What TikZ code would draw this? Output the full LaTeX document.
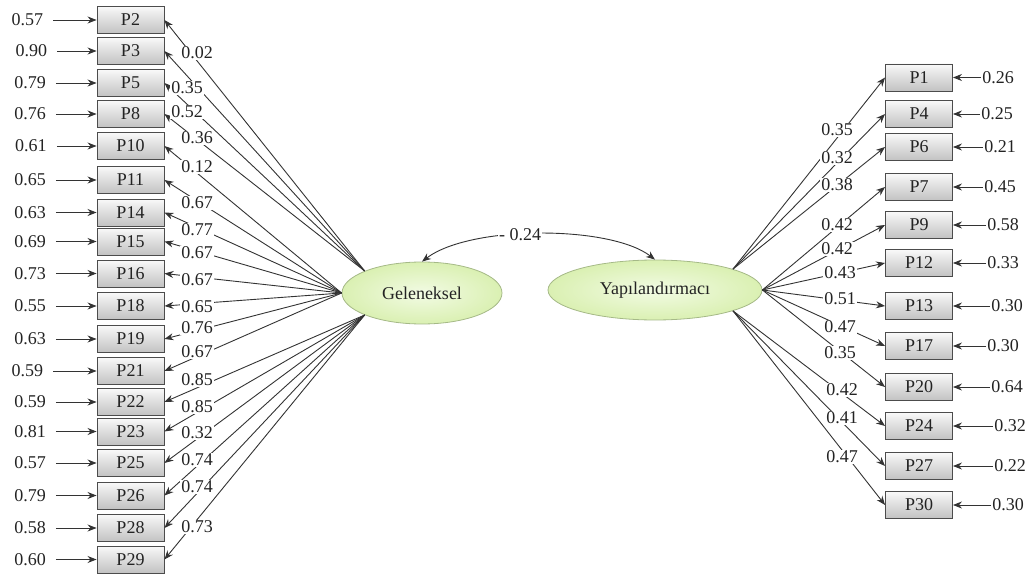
\documentclass[tikz,border=0pt]{standalone}
\usepackage{fontspec}
\setmainfont{Liberation Serif}
\usetikzlibrary{shapes.geometric,arrows.meta}
\definecolor{latfill}{RGB}{218,240,178}
\definecolor{latinner}{RGB}{242,251,228}
\definecolor{latdraw}{RGB}{165,185,135}
\definecolor{ink}{RGB}{35,35,35}
\begin{document}
\begin{tikzpicture}[x=1pt,y=-1pt,
  txt/.style={font=\fontsize{18}{20}\selectfont, text=ink},
  item/.style={txt, draw=black!70, line width=0.9pt, top color=gray!5, bottom color=gray!48,
               minimum width=67pt, minimum height=27pt, inner sep=0pt},
  latent/.style={txt, ellipse, draw=latdraw, line width=0.8pt, inner color=latinner,
                 outer color=latfill, inner sep=0pt},
  coef/.style={txt, fill=white, inner sep=1pt},
  err/.style={txt, inner sep=1pt},
  link/.style={-{Stealth[length=9pt,width=7pt]}, draw=black!80, line width=0.9pt},
  corr/.style={arrows={Stealth[length=9pt,width=7pt]-Stealth[length=9pt,width=7pt]},
               draw=black!80, line width=0.9pt},
]
\useasboundingbox (0,0) rectangle (1031,575);

% latent factors
\node[latent, minimum width=160pt, minimum height=62pt] (gel) at (422,293) {Geleneksel};
\node[latent, minimum width=214pt, minimum height=60pt] (yap) at (655,290) {Yapılandırmacı};

% name / y / error / error x / loading / label x / label y / anchor angle
\def\leftdata{2/20/0.57/27.5/0.02/197/53/159,
3/51/0.90/31.5/0.35/187/88/159,
5/83/0.79/30/0.52/187/112/159,
8/114/0.76/30/0.36/197/138/159,
10/146/0.61/31/0.12/197/167/180,
11/180/0.65/30/0.67/197/203/180,
14/212.5/0.63/30/0.77/197/230/180,
15/241.5/0.69/30/0.67/197/253/180,
16/273.5/0.73/30/0.67/197/280/180,
18/306/0.55/30/0.65/197/307/180,
19/339/0.63/30/0.76/197/328/180,
21/371/0.59/27.5/0.67/197/352/180,
22/402/0.59/30/0.85/197/380/201,
23/431.5/0.81/30/0.85/197/407/201,
25/463/0.57/30/0.32/197/433/201,
26/495.5/0.79/30/0.74/197/460/201,
28/528/0.58/30/0.74/197/487/201,
29/559.5/0.60/30/0.73/197/527/201}

\def\rightdata{1/77.5/0.26/998/0.35/837/130/15,
4/114/0.25/997/0.32/837/158/15,
6/147/0.21/1000/0.38/837/185/15,
7/187/0.45/1000/0.42/837/225/0,
9/225/0.58/1003/0.42/837/249/0,
12/263/0.33/1003/0.43/840/273/0,
13/306/0.30/1007/0.51/840/299/0,
17/346/0.30/1003/0.47/840/327/0,
20/387/0.64/1007/0.35/840/353/0,
24/426/0.32/1010/0.42/842/390/-15,
27/466/0.22/1010/0.41/842/418/-15,
30/505/0.30/1008/0.47/842/457/-15}

% indicators of Geleneksel
\foreach \n/\y/\e/\ex/\l/\lx/\ly/\g in \leftdata {
  \node[item] (P\n) at (130.5,\y) {P\n};
  \node[err] (e\n) at (\ex,\y) {\e};
  \draw[link, shorten <=9pt] (e\n) -- (P\n);
  \draw[link] (gel.\g) -- (P\n.east);
}

% indicators of Yapılandırmacı
\foreach \n/\y/\e/\ex/\l/\lx/\ly/\g in \rightdata {
  \node[item] (P\n) at (919,\y) {P\n};
  \node[err] (e\n) at (\ex,\y) {\e};
  \draw[link] (e\n) -- (P\n);
  \draw[link] (yap.\g) -- (P\n.west);
}

% loading coefficients
\foreach \n/\y/\e/\ex/\l/\lx/\ly/\g in \leftdata {
  \node[coef] (c\n) at (\lx,\ly) {\l};
}
\foreach \n/\y/\e/\ex/\l/\lx/\ly/\g in \rightdata {
  \node[coef] (c\n) at (\lx,\ly) {\l};
}

% factor correlation
\draw[corr] (gel.north) .. controls (470,225) and (610,225) .. (yap.north)
  node[coef, pos=0.43] (r) {- 0.24};
\end{tikzpicture}
\end{document}
